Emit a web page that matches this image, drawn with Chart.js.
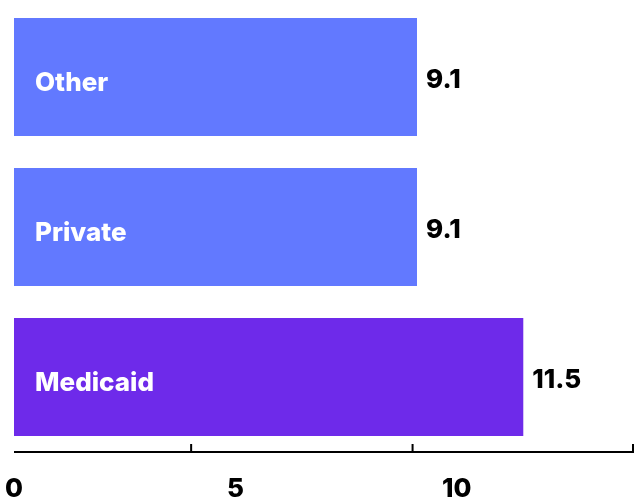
<!DOCTYPE html>
<html>
<head>
<meta charset="utf-8">
<script src="https://cdn.jsdelivr.net/npm/chart.js@4"></script>
<style>
  html, body { margin: 0; padding: 0; background: #fff; }
  #wrap { width: 639px; height: 498px; }
</style>
</head>
<body>
<div id="wrap"><canvas id="bars"></canvas></div>
<script>
// data //
var categories = ["Other", "Private", "Medicaid"]
var values = [9.1, 9.1, 11.5]
var barColors = ["#6279ff", "#6279ff", "#6e2aea"]
var tickLabels = [0, 5, 10]
var tickMarks = [4, 9, 14]

var fontFamily = "Inter, 'Liberation Sans', Arial, sans-serif"

// labels inside / after the bars
const barText = {
    id: "barText",
    afterDatasetsDraw(chart) {
        var ctx = chart.ctx
        var meta = chart.getDatasetMeta(0)
        ctx.save()
        ctx.textBaseline = "middle"
        meta.data.forEach(function (bar, i) {
            ctx.font = "800 26px " + fontFamily
            ctx.fillStyle = "#ffffff"
            ctx.textAlign = "left"
            ctx.fillText(categories[i], bar.base + 21, bar.y + 6)
            ctx.fillStyle = "#000000"
            ctx.fillText(values[i].toFixed(1), bar.x + 9, bar.y + 3)
        })
        ctx.restore()
    }
}

// axis line with its tick marks pointing up
const axisLine = {
    id: "axisLine",
    afterDraw(chart) {
        var ctx = chart.ctx
        var x = chart.scales.x
        var y = chart.chartArea.bottom
        ctx.save()
        ctx.strokeStyle = "#000000"
        ctx.lineWidth = 2
        ctx.beginPath()
        ctx.moveTo(x.left, y)
        ctx.lineTo(x.right, y)
        tickMarks.forEach(function (v) {
            var px = x.getPixelForValue(v)
            if (px > x.right - 1) px = x.right - 1
            ctx.moveTo(px, y + 1)
            ctx.lineTo(px, y - 8)
        })
        ctx.stroke()
        ctx.restore()
    }
}

var chart = new Chart(document.getElementById("bars"), {
    type: "bar",
    data: {
        labels: categories,
        datasets: [{
            data: values,
            backgroundColor: barColors,
            categoryPercentage: 1,
            barPercentage: 0.787
        }]
    },
    options: {
        indexAxis: "y",
        responsive: true,
        maintainAspectRatio: false,
        animation: false,
        layout: { padding: { left: 14, right: 5, top: 2, bottom: 0 } },
        plugins: {
            legend: { display: false },
            tooltip: { enabled: false }
        },
        scales: {
            y: { display: false },
            x: {
                min: 0,
                max: 14,
                grid: { display: false },
                border: { display: false },
                afterBuildTicks: function (scale) {
                    scale.ticks = tickLabels.map(function (v) { return { value: v } })
                },
                afterFit: function (scale) {
                    scale.height = 46
                    scale.paddingLeft = 0
                    scale.paddingRight = 0
                },
                ticks: {
                    color: "#000000",
                    padding: 14,
                    maxRotation: 0,
                    font: { family: fontFamily, size: 26, weight: "800" }
                }
            }
        }
    },
    plugins: [barText, axisLine]
});
</script>
</body>
</html>
